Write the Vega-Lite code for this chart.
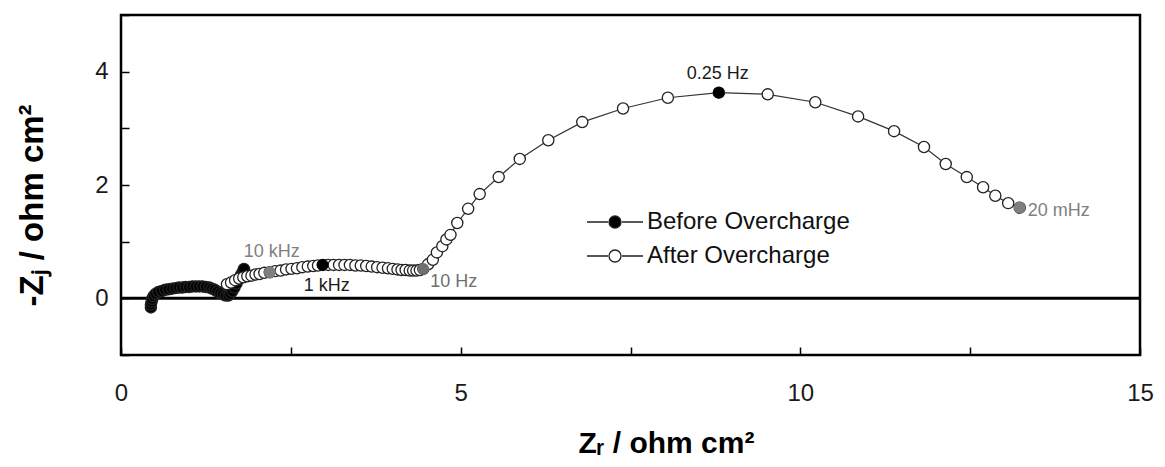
{
  "$schema": "https://vega.github.io/schema/vega-lite/v6.json",
  "width": 1019,
  "height": 340,
  "autosize": {"type": "none"},
  "padding": {"left": 121, "top": 15, "right": 25, "bottom": 112},
  "background": "white",
  "config": {
    "view": {"stroke": "black", "strokeWidth": 2.5},
    "font": "Liberation Sans",
    "axis": {
      "grid": false,
      "domain": false,
      "labelFont": "Liberation Sans",
      "labelFontSize": 24,
      "labelColor": "#1a1a1a",
      "labelFlush": false,
      "tickColor": "black",
      "tickWidth": 1.5,
      "titleFont": "Liberation Sans",
      "titleFontSize": 30,
      "titleFontWeight": "bold",
      "titleColor": "black"
    }
  },
  "datasets": {
    "curves": [
      {"series": "Before Overcharge", "zr": 0.44, "zj": -0.16},
      {"series": "Before Overcharge", "zr": 0.44, "zj": -0.11},
      {"series": "Before Overcharge", "zr": 0.45, "zj": -0.06},
      {"series": "Before Overcharge", "zr": 0.46, "zj": -0.01},
      {"series": "Before Overcharge", "zr": 0.48, "zj": 0.04},
      {"series": "Before Overcharge", "zr": 0.51, "zj": 0.08},
      {"series": "Before Overcharge", "zr": 0.55, "zj": 0.11},
      {"series": "Before Overcharge", "zr": 0.60, "zj": 0.13},
      {"series": "Before Overcharge", "zr": 0.65, "zj": 0.15},
      {"series": "Before Overcharge", "zr": 0.70, "zj": 0.16},
      {"series": "Before Overcharge", "zr": 0.75, "zj": 0.17},
      {"series": "Before Overcharge", "zr": 0.80, "zj": 0.18},
      {"series": "Before Overcharge", "zr": 0.85, "zj": 0.19},
      {"series": "Before Overcharge", "zr": 0.90, "zj": 0.19},
      {"series": "Before Overcharge", "zr": 0.95, "zj": 0.20},
      {"series": "Before Overcharge", "zr": 1.00, "zj": 0.20},
      {"series": "Before Overcharge", "zr": 1.05, "zj": 0.21},
      {"series": "Before Overcharge", "zr": 1.10, "zj": 0.21},
      {"series": "Before Overcharge", "zr": 1.15, "zj": 0.21},
      {"series": "Before Overcharge", "zr": 1.20, "zj": 0.21},
      {"series": "Before Overcharge", "zr": 1.25, "zj": 0.20},
      {"series": "Before Overcharge", "zr": 1.30, "zj": 0.19},
      {"series": "Before Overcharge", "zr": 1.34, "zj": 0.17},
      {"series": "Before Overcharge", "zr": 1.38, "zj": 0.15},
      {"series": "Before Overcharge", "zr": 1.42, "zj": 0.12},
      {"series": "Before Overcharge", "zr": 1.46, "zj": 0.09},
      {"series": "Before Overcharge", "zr": 1.50, "zj": 0.07},
      {"series": "Before Overcharge", "zr": 1.54, "zj": 0.05},
      {"series": "Before Overcharge", "zr": 1.58, "zj": 0.05},
      {"series": "Before Overcharge", "zr": 1.61, "zj": 0.08},
      {"series": "Before Overcharge", "zr": 1.64, "zj": 0.13},
      {"series": "Before Overcharge", "zr": 1.67, "zj": 0.19},
      {"series": "Before Overcharge", "zr": 1.70, "zj": 0.26},
      {"series": "Before Overcharge", "zr": 1.73, "zj": 0.33},
      {"series": "Before Overcharge", "zr": 1.76, "zj": 0.40},
      {"series": "Before Overcharge", "zr": 1.79, "zj": 0.46},
      {"series": "Before Overcharge", "zr": 1.81, "zj": 0.52},
      {"series": "After Overcharge", "zr": 1.56, "zj": 0.25},
      {"series": "After Overcharge", "zr": 1.62, "zj": 0.28},
      {"series": "After Overcharge", "zr": 1.68, "zj": 0.32},
      {"series": "After Overcharge", "zr": 1.74, "zj": 0.35},
      {"series": "After Overcharge", "zr": 1.80, "zj": 0.37},
      {"series": "After Overcharge", "zr": 1.86, "zj": 0.39},
      {"series": "After Overcharge", "zr": 1.92, "zj": 0.40},
      {"series": "After Overcharge", "zr": 1.98, "zj": 0.42},
      {"series": "After Overcharge", "zr": 2.04, "zj": 0.43},
      {"series": "After Overcharge", "zr": 2.11, "zj": 0.45},
      {"series": "After Overcharge", "zr": 2.19, "zj": 0.46},
      {"series": "After Overcharge", "zr": 2.27, "zj": 0.48},
      {"series": "After Overcharge", "zr": 2.35, "zj": 0.49},
      {"series": "After Overcharge", "zr": 2.43, "zj": 0.51},
      {"series": "After Overcharge", "zr": 2.51, "zj": 0.52},
      {"series": "After Overcharge", "zr": 2.59, "zj": 0.53},
      {"series": "After Overcharge", "zr": 2.67, "zj": 0.55},
      {"series": "After Overcharge", "zr": 2.75, "zj": 0.56},
      {"series": "After Overcharge", "zr": 2.83, "zj": 0.57},
      {"series": "After Overcharge", "zr": 2.90, "zj": 0.58},
      {"series": "After Overcharge", "zr": 2.97, "zj": 0.59},
      {"series": "After Overcharge", "zr": 3.05, "zj": 0.59},
      {"series": "After Overcharge", "zr": 3.13, "zj": 0.59},
      {"series": "After Overcharge", "zr": 3.21, "zj": 0.59},
      {"series": "After Overcharge", "zr": 3.29, "zj": 0.59},
      {"series": "After Overcharge", "zr": 3.37, "zj": 0.59},
      {"series": "After Overcharge", "zr": 3.45, "zj": 0.58},
      {"series": "After Overcharge", "zr": 3.53, "zj": 0.58},
      {"series": "After Overcharge", "zr": 3.61, "zj": 0.57},
      {"series": "After Overcharge", "zr": 3.69, "zj": 0.56},
      {"series": "After Overcharge", "zr": 3.77, "zj": 0.55},
      {"series": "After Overcharge", "zr": 3.85, "zj": 0.54},
      {"series": "After Overcharge", "zr": 3.93, "zj": 0.53},
      {"series": "After Overcharge", "zr": 4.00, "zj": 0.52},
      {"series": "After Overcharge", "zr": 4.07, "zj": 0.51},
      {"series": "After Overcharge", "zr": 4.13, "zj": 0.50},
      {"series": "After Overcharge", "zr": 4.19, "zj": 0.50},
      {"series": "After Overcharge", "zr": 4.25, "zj": 0.49},
      {"series": "After Overcharge", "zr": 4.30, "zj": 0.49},
      {"series": "After Overcharge", "zr": 4.35, "zj": 0.49},
      {"series": "After Overcharge", "zr": 4.40, "zj": 0.50},
      {"series": "After Overcharge", "zr": 4.45, "zj": 0.52},
      {"series": "After Overcharge", "zr": 4.52, "zj": 0.60},
      {"series": "After Overcharge", "zr": 4.59, "zj": 0.68},
      {"series": "After Overcharge", "zr": 4.65, "zj": 0.81},
      {"series": "After Overcharge", "zr": 4.73, "zj": 0.92},
      {"series": "After Overcharge", "zr": 4.79, "zj": 1.04},
      {"series": "After Overcharge", "zr": 4.85, "zj": 1.12},
      {"series": "After Overcharge", "zr": 4.95, "zj": 1.33},
      {"series": "After Overcharge", "zr": 5.11, "zj": 1.58},
      {"series": "After Overcharge", "zr": 5.28, "zj": 1.84},
      {"series": "After Overcharge", "zr": 5.56, "zj": 2.14},
      {"series": "After Overcharge", "zr": 5.87, "zj": 2.46},
      {"series": "After Overcharge", "zr": 6.29, "zj": 2.79},
      {"series": "After Overcharge", "zr": 6.79, "zj": 3.11},
      {"series": "After Overcharge", "zr": 7.39, "zj": 3.35},
      {"series": "After Overcharge", "zr": 8.05, "zj": 3.54},
      {"series": "After Overcharge", "zr": 8.80, "zj": 3.63},
      {"series": "After Overcharge", "zr": 9.52, "zj": 3.60},
      {"series": "After Overcharge", "zr": 10.22, "zj": 3.46},
      {"series": "After Overcharge", "zr": 10.85, "zj": 3.21},
      {"series": "After Overcharge", "zr": 11.38, "zj": 2.95},
      {"series": "After Overcharge", "zr": 11.82, "zj": 2.67},
      {"series": "After Overcharge", "zr": 12.14, "zj": 2.37},
      {"series": "After Overcharge", "zr": 12.45, "zj": 2.14},
      {"series": "After Overcharge", "zr": 12.69, "zj": 1.96},
      {"series": "After Overcharge", "zr": 12.87, "zj": 1.81},
      {"series": "After Overcharge", "zr": 13.06, "zj": 1.68},
      {"series": "After Overcharge", "zr": 13.23, "zj": 1.60}
    ],
    "markers": [
      {"label": "10 kHz", "zr": 2.19, "zj": 0.46},
      {"label": "1 kHz", "zr": 2.97, "zj": 0.59},
      {"label": "10 Hz", "zr": 4.45, "zj": 0.52},
      {"label": "0.25 Hz", "zr": 8.80, "zj": 3.63},
      {"label": "20 mHz", "zr": 13.23, "zj": 1.60}
    ]
  },
  "layer": [
    {
      "data": {"values": [{"zj": 0}]},
      "mark": {"type": "rule", "stroke": "black", "strokeWidth": 3},
      "encoding": {
        "y": {"field": "zj", "type": "quantitative", "scale": {"domain": [-1, 5], "nice": false, "zero": false}}
      }
    },
    {
      "data": {"name": "curves"},
      "mark": {"type": "line", "stroke": "#333", "strokeWidth": 1.2},
      "encoding": {
        "x": {
          "field": "zr", "type": "quantitative",
          "scale": {"domain": [0, 15], "nice": false, "zero": false},
          "axis": {
            "values": [0, 2.5, 5, 7.5, 10, 12.5, 15],
            "labelExpr": "datum.value % 5 == 0 ? format(datum.value, 'd') : ''",
            "tickSize": -8,
            "labelPadding": 34,
            "title": "Zᵣ / ohm cm²",
            "titleX": 545,
            "titleY": 97,
            "titleAlign": "center",
            "titleBaseline": "alphabetic"
          }
        },
        "y": {
          "field": "zj", "type": "quantitative",
          "scale": {"domain": [-1, 5], "nice": false, "zero": false},
          "axis": {
            "values": [-1, 0, 1, 2, 3, 4, 5],
            "labelExpr": "datum.value == 0 || datum.value == 2 || datum.value == 4 ? format(datum.value, 'd') : ''",
            "tickSize": -8,
            "labelPadding": 21,
            "title": "-Zⱼ / ohm cm²",
            "titleFontSize": 33,
            "titleX": -79,
            "titleY": 190,
            "titleAngle": -90,
            "titleAlign": "center",
            "titleBaseline": "alphabetic"
          }
        },
        "detail": {"field": "series", "type": "nominal"}
      }
    },
    {
      "data": {"name": "curves"},
      "mark": {"type": "circle", "size": 125, "opacity": 1, "stroke": "#222", "strokeWidth": 1.3},
      "encoding": {
        "x": {"field": "zr", "type": "quantitative"},
        "y": {"field": "zj", "type": "quantitative"},
        "fill": {
          "field": "series", "type": "nominal",
          "scale": {"domain": ["Before Overcharge", "After Overcharge"], "range": ["black", "white"]},
          "legend": {
            "title": null,
            "orient": "none",
            "legendX": 482,
            "legendY": 195,
            "padding": 0,
            "symbolType": "M-4.67,0H-1.17M1.17,0H4.67M1,0A1,1,0,1,1,-1,0A1,1,0,1,1,1,0Z",
            "symbolSize": 144,
            "symbolStrokeColor": "#222",
            "symbolStrokeWidth": 1.3,
            "labelFont": "Liberation Sans",
            "labelFontSize": 24,
            "labelColor": "#111",
            "labelOffset": 20,
            "labelLimit": 500,
            "rowPadding": 10
          }
        }
      }
    },
    {
      "data": {"name": "markers"},
      "mark": {"type": "circle", "size": 140, "opacity": 1},
      "encoding": {
        "x": {"field": "zr", "type": "quantitative"},
        "y": {"field": "zj", "type": "quantitative"},
        "fill": {
          "field": "label", "type": "nominal",
          "scale": {"domain": ["10 kHz", "1 kHz", "10 Hz", "0.25 Hz", "20 mHz"], "range": ["#7f7f7f", "#000000", "#6f6f6f", "#000000", "#7f7f7f"]},
          "legend": null
        }
      }
    },
    {
      "data": {"name": "markers"},
      "transform": [{"filter": "datum.label == '10 kHz'"}],
      "mark": {"type": "text", "font": "Liberation Sans", "fontSize": 18, "fill": "#808080", "dx": 2, "dy": -20, "baseline": "middle", "align": "center"},
      "encoding": {"x": {"field": "zr", "type": "quantitative"}, "y": {"field": "zj", "type": "quantitative"}, "text": {"field": "label"}}
    },
    {
      "data": {"name": "markers"},
      "transform": [{"filter": "datum.label == '0.25 Hz'"}],
      "mark": {"type": "text", "font": "Liberation Sans", "fontSize": 18, "fill": "#1a1a1a", "dx": -1, "dy": -19, "baseline": "middle", "align": "center"},
      "encoding": {"x": {"field": "zr", "type": "quantitative"}, "y": {"field": "zj", "type": "quantitative"}, "text": {"field": "label"}}
    },
    {
      "data": {"name": "markers"},
      "transform": [{"filter": "datum.label == '1 kHz'"}],
      "mark": {"type": "text", "font": "Liberation Sans", "fontSize": 18, "fill": "#1a1a1a", "dx": 4, "dy": 21, "baseline": "middle", "align": "center"},
      "encoding": {"x": {"field": "zr", "type": "quantitative"}, "y": {"field": "zj", "type": "quantitative"}, "text": {"field": "label"}}
    },
    {
      "data": {"name": "markers"},
      "transform": [{"filter": "datum.label == '10 Hz'"}],
      "mark": {"type": "text", "font": "Liberation Sans", "fontSize": 18, "fill": "#6f6f6f", "dx": 7, "dy": 13, "baseline": "middle", "align": "left"},
      "encoding": {"x": {"field": "zr", "type": "quantitative"}, "y": {"field": "zj", "type": "quantitative"}, "text": {"field": "label"}}
    },
    {
      "data": {"name": "markers"},
      "transform": [{"filter": "datum.label == '20 mHz'"}],
      "mark": {"type": "text", "font": "Liberation Sans", "fontSize": 18, "fill": "#808080", "dx": 8, "dy": 3, "baseline": "middle", "align": "left"},
      "encoding": {"x": {"field": "zr", "type": "quantitative"}, "y": {"field": "zj", "type": "quantitative"}, "text": {"field": "label"}}
    }
  ],
  "resolve": {"scale": {"fill": "independent"}}
}
